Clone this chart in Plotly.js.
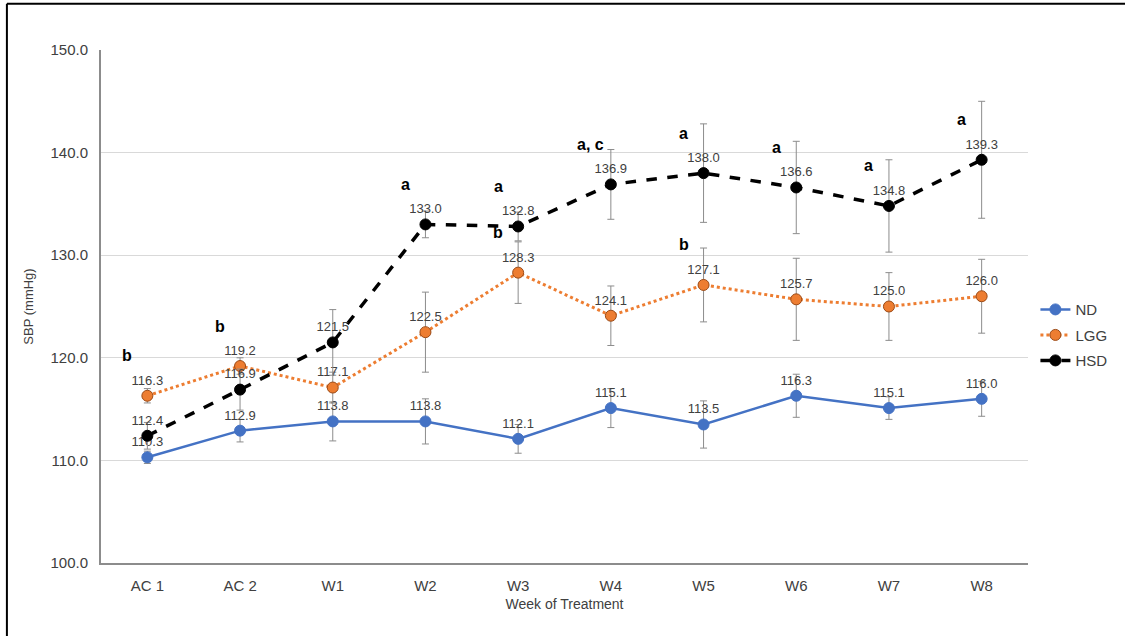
<!DOCTYPE html>
<html>
<head>
<meta charset="utf-8">
<script src="https://cdn.plot.ly/plotly-3.0.1.min.js"></script>
<style>html,body{margin:0;padding:0;background:#fff;}#chart{width:1125px;height:636px;}</style>
</head>
<body>
<div id="chart"></div>
<script>
const weeks = ["AC 1", "AC 2", "W1", "W2", "W3", "W4", "W5", "W6", "W7", "W8"];
const ndValues  = [110.3, 112.9, 113.8, 113.8, 112.1, 115.1, 113.5, 116.3, 115.1, 116.0];
const lggValues = [116.3, 119.2, 117.1, 122.5, 128.3, 124.1, 127.1, 125.7, 125.0, 126.0];
const hsdValues = [112.4, 116.9, 121.5, 133.0, 132.8, 136.9, 138.0, 136.6, 134.8, 139.3];
const ndErr  = [0.6, 1.1, 1.9, 2.2, 1.4, 1.9, 2.3, 2.1, 1.1, 1.7];
const lggErr = [0.7, 0.8, 1.5, 3.9, 3.0, 2.9, 3.6, 4.0, 3.3, 3.6];
const hsdErr = [1.3, 2.0, 3.2, 1.3, 1.4, 3.4, 4.8, 4.5, 4.5, 5.7];
const lggLetters = ["b", "b", "", "", "b", "", "b", "", "", ""];
const hsdLetters = ["", "", "", "a", "a", "a, c", "a", "a", "a", "a"];

const labelFont = {family: "Liberation Sans, Arial, sans-serif", size: 13, color: "#404040"};
const errStyle = {type: "data", visible: true, color: "#8c8c8c", thickness: 1, width: 3.5};

function fmt(arr){ return arr.map(v => v.toFixed(1)); }

const traces = [
  {
    name: "ND", legendgroup: "g1", x: weeks, y: ndValues, type: "scatter", mode: "lines+markers+text",
    text: fmt(ndValues), textposition: "top center", textfont: labelFont,
    line: {color: "#4472C4", width: 2.5},
    marker: {color: "#4472C4", size: 11, line: {color: "#4472C4", width: 1}},
    error_y: Object.assign({array: ndErr}, errStyle),
    cliponaxis: false
  },
  {
    name: "LGG", legendgroup: "g2", x: weeks, y: lggValues, type: "scatter", mode: "lines+markers+text",
    text: fmt(lggValues), textposition: "top center", textfont: labelFont,
    line: {color: "#ED7D31", width: 3, dash: "dot"},
    marker: {color: "#ED7D31", size: 11, line: {color: "#9b4a16", width: 1}},
    error_y: Object.assign({array: lggErr}, errStyle),
    cliponaxis: false
  },
  {
    name: "HSD", legendgroup: "g3", x: weeks, y: hsdValues, type: "scatter", mode: "lines+markers+text",
    text: fmt(hsdValues), textposition: "top center", textfont: labelFont,
    line: {color: "#000000", width: 3.5, dash: "dash"},
    marker: {color: "#000000", size: 11, line: {color: "#000000", width: 1}},
    error_y: Object.assign({array: hsdErr}, errStyle),
    cliponaxis: false
  }
];

const annotations = [];
function addLetters(letters, values){
  letters.forEach((t, i) => {
    if (!t) return;
    annotations.push({
      x: weeks[i], y: values[i], xref: "x", yref: "y", text: "<b>" + t + "</b>",
      showarrow: false, xshift: -20, yshift: 40,
      font: {family: "Liberation Sans, Arial, sans-serif", size: 16, color: "#000"}
    });
  });
}
addLetters(lggLetters, lggValues);
addLetters(hsdLetters, hsdValues);

const layout = {
  width: 1125, height: 636,
  margin: {l: 101, r: 97, t: 50, b: 73},
  paper_bgcolor: "#ffffff", plot_bgcolor: "#ffffff",
  font: {family: "Liberation Sans, Arial, sans-serif", color: "#404040"},
  showlegend: true,
  legend: {x: 1.008, y: 0.526, xanchor: "left", yanchor: "top",
           font: {size: 15, color: "#404040"}, tracegroupgap: 3, itemwidth: 30},
  xaxis: {
    type: "category", range: [-0.5, 9.5], showgrid: false, zeroline: false,
    showline: true, linecolor: "#8c8c8c", linewidth: 2, ticks: "",
    tickfont: {size: 15, color: "#404040"}, ticklabelstandoff: 8,
    title: {text: "Week of Treatment", font: {size: 14, color: "#404040"}, standoff: 6}
  },
  yaxis: {
    range: [100, 150], dtick: 10, tick0: 100, tickformat: ".1f",
    showgrid: true, gridcolor: "#d9d9d9", gridwidth: 1, zeroline: false,
    showline: true, linecolor: "#8c8c8c", linewidth: 2, ticks: "",
    tickfont: {size: 15, color: "#404040"}, ticklabelstandoff: 8,
    title: {text: "SBP (mmHg)", font: {size: 13, color: "#404040"}, standoff: 14}
  },
  annotations: annotations,
  shapes: [
    {type: "line", xref: "paper", yref: "paper", x0: -0.1015, x1: 1.12, y0: 1.09, y1: 1.09,
     line: {color: "#000", width: 2}},
    {type: "line", xref: "paper", yref: "paper", x0: -0.1015, x1: -0.1015, y0: -0.15, y1: 1.09,
     line: {color: "#000", width: 2}}
  ]
};

Plotly.newPlot("chart", traces, layout, {displayModeBar: false, staticPlot: true});
</script>
</body>
</html>
